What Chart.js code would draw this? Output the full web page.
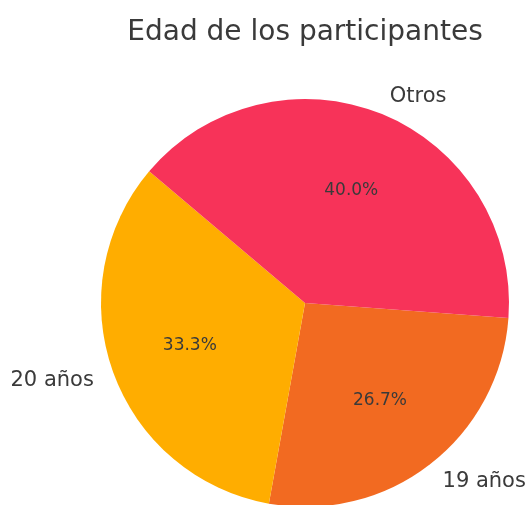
<!DOCTYPE html>
<html>
<head>
<meta charset="utf-8">
<script src="https://cdn.jsdelivr.net/npm/chart.js@4"></script>
<style>
  html, body { margin: 0; padding: 0; background: #ffffff; overflow: hidden; }
  #wrap { width: 526px; height: 520px; }
</style>
</head>
<body>
<div id="wrap"><canvas id="chart" width="526" height="520"></canvas></div>
<script>
const chartTitle = 'Edad de los participantes'
const labels = ['19 años', '20 años', 'Otros']
const counts = [4, 5, 6]
const sliceColors = ['#f26a21', '#ffad00', '#f73359']

const textColor = '#3a3a3a'
const fontFamily = "'DejaVu Sans', sans-serif"

// draws title, outer labels and percentages like matplotlib's autopct
const pieText = {
    id: 'pieText',
    afterDraw(chart) {
        const ctx = chart.ctx
        const total = counts.reduce((a, b) => a + b, 0)
        ctx.save()
        ctx.fillStyle = textColor

        ctx.font = `28px ${fontFamily}`
        ctx.textAlign = 'center'
        ctx.textBaseline = 'alphabetic'
        ctx.fillText(chartTitle, 305, 40)

        chart.getDatasetMeta(0).data.forEach((arc, i) => {
            const mid = (arc.startAngle + arc.endAngle) / 2
            const r = arc.outerRadius
            const cos = Math.cos(mid)
            const sin = Math.sin(mid)

            ctx.font = `21px ${fontFamily}`
            ctx.textBaseline = 'middle'
            ctx.textAlign = cos >= 0 ? 'left' : 'right'
            ctx.fillText(labels[i], arc.x + cos * r * 1.1, arc.y + sin * r * 1.1 + 1.5)

            ctx.font = `17px ${fontFamily}`
            ctx.textAlign = 'center'
            const pct = (counts[i] / total * 100).toFixed(1) + '%'
            ctx.fillText(pct, arc.x + cos * r * 0.6, arc.y + sin * r * 0.6 + 1)
        })
        ctx.restore()
    }
}

new Chart(document.getElementById('chart'), {
    type: 'pie',
    data: {
        labels: labels,
        datasets: [{
            data: counts,
            backgroundColor: sliceColors,
            borderWidth: 0
        }]
    },
    options: {
        responsive: false,
        animation: false,
        rotation: 94.2,
        layout: {
            padding: { left: 101, right: 17, top: 99, bottom: 13 }
        },
        plugins: {
            legend: { display: false },
            tooltip: { enabled: false },
            title: { display: false }
        }
    },
    plugins: [pieText]
})
</script>
</body>
</html>
